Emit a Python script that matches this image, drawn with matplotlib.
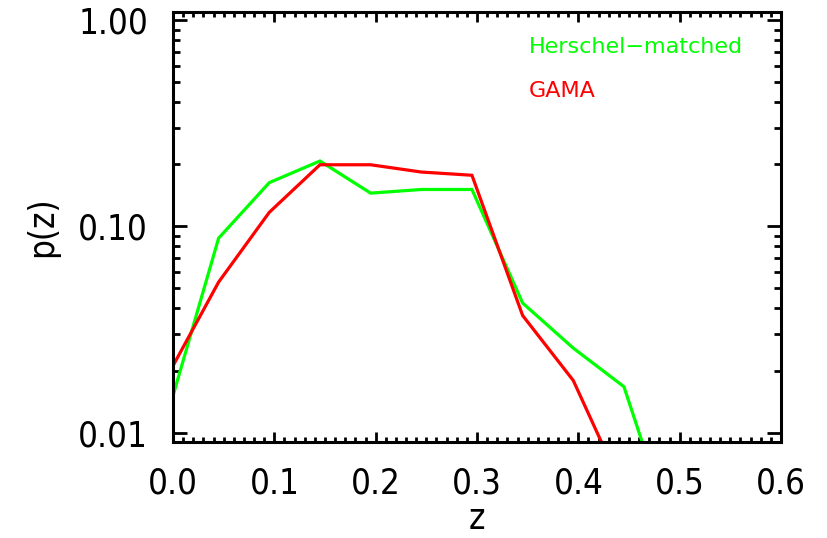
import matplotlib
matplotlib.use("Agg")
import matplotlib.pyplot as plt
from matplotlib.ticker import FixedLocator, LogLocator, MultipleLocator, FormatStrFormatter, NullFormatter

# binned redshift distributions
z = [0.0, 0.045, 0.095, 0.145, 0.195, 0.245, 0.295, 0.345, 0.395, 0.445, 0.495]
p_herschel = [0.0151, 0.0877, 0.163, 0.2075, 0.145, 0.151, 0.151, 0.0425, 0.0257, 0.0167, 0.0030]
z_gama = [0.0, 0.045, 0.095, 0.145, 0.195, 0.245, 0.295, 0.345, 0.395, 0.445]
p_gama = [0.0211, 0.0537, 0.117, 0.199, 0.199, 0.1835, 0.177, 0.037, 0.0179, 0.0052]

xticks = [0.0, 0.1, 0.2, 0.3, 0.4, 0.5, 0.6]
yticks = [0.01, 0.1, 1.0]

plt.rcParams['font.family'] = ['DejaVu Sans']
plt.rcParams['font.stretch'] = 'condensed'

fig = plt.figure(figsize=(8.27, 5.38), dpi=100)
ax = fig.add_axes([0.2092, 0.179, 0.7352, 0.7985])

ax.plot(z, p_herschel, color='#00ff00', lw=2.3, solid_joinstyle='miter')
ax.plot(z_gama, p_gama, color='#ff0000', lw=2.3, solid_joinstyle='miter')

ax.set_yscale('log')
ax.set_xlim(0, 0.6)
ax.set_ylim(0.00904, 1.094)

ax.xaxis.set_major_locator(FixedLocator(xticks))
ax.xaxis.set_minor_locator(MultipleLocator(0.01))
ax.xaxis.set_major_formatter(FormatStrFormatter('%.1f'))
ax.yaxis.set_major_locator(FixedLocator(yticks))
ax.yaxis.set_minor_locator(LogLocator(base=10, subs=range(2, 10)))
ax.yaxis.set_major_formatter(FormatStrFormatter('%.2f'))
ax.yaxis.set_minor_formatter(NullFormatter())

for s in ax.spines.values():
    s.set_linewidth(2.2)
ax.tick_params(which='both', direction='in', top=True, right=True, width=2.0,
               labelsize=25)
ax.tick_params(axis='x', which='major', length=7, pad=18)
ax.tick_params(axis='x', which='minor', length=3.5)
ax.tick_params(axis='y', which='major', length=10, pad=18)
ax.tick_params(axis='y', which='minor', length=5)

ax.set_xlabel('z', fontsize=25, labelpad=1)
ax.set_ylabel('p(z)', fontsize=25, labelpad=14)

ax.text(0.585, 0.919, 'Herschel\u2212matched', color='#00ff00', fontsize=16,
        family='DejaVu Sans', stretch='normal', transform=ax.transAxes, va='center')
ax.text(0.585, 0.816, 'GAMA', color='#ff0000', fontsize=16,
        family='DejaVu Sans', stretch='normal', transform=ax.transAxes, va='center')

fig.savefig('out.png', dpi=100)
